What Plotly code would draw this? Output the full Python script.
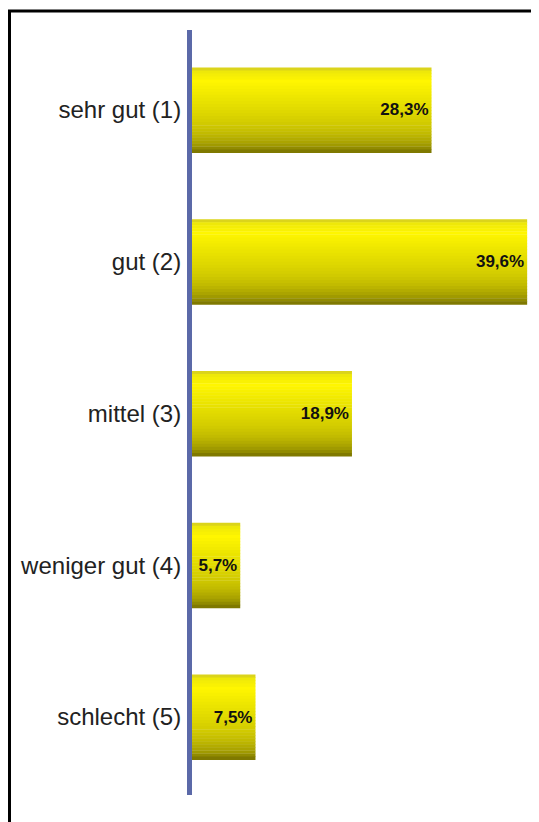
import plotly.graph_objects as go

categories = ["sehr gut (1)", "gut (2)", "mittel (3)", "weniger gut (4)", "schlecht (5)"]
values = [28.3, 39.6, 18.9, 5.7, 7.5]

# page body has an 8px margin, so the figure is sized to fill the rest
W, H = 531, 814
L, R, T, B = 184, 0, 22, 27
pw, ph = W - L - R, H - T - B

BAR_W = 0.56
# shading stops (fraction from top of bar, rgb) – purely styling
stops = [
    (0.00, (205, 198, 40)),
    (0.04, (236, 230, 10)),
    (0.16, (255, 246, 0)),
    (0.32, (240, 233, 0)),
    (0.48, (226, 219, 0)),
    (0.64, (212, 205, 0)),
    (0.78, (192, 185, 0)),
    (0.90, (165, 158, 0)),
    (0.97, (135, 129, 0)),
    (1.00, (115, 110, 0)),
]


def shade(f):
    for (f0, c0), (f1, c1) in zip(stops[:-1], stops[1:]):
        if f0 <= f <= f1:
            t = (f - f0) / (f1 - f0) if f1 > f0 else 0
            return "rgb(%d,%d,%d)" % tuple(round(a + (b - a) * t) for a, b in zip(c0, c1))
    return "rgb(%d,%d,%d)" % stops[-1][1]


N = 28
fig = go.Figure()
for i in range(N):
    f0 = i / N
    fig.add_trace(go.Bar(
        x=values, y=categories, orientation="h",
        offset=-BAR_W / 2 + f0 * BAR_W, width=BAR_W / N * 1.15,
        marker=dict(color=shade(f0 + 0.5 / N), line=dict(width=0)),
        hoverinfo="skip", showlegend=False,
    ))

# text trace
fig.add_trace(go.Bar(
    x=values, y=categories, orientation="h",
    offset=-BAR_W / 2, width=BAR_W,
    marker=dict(color="rgba(0,0,0,0)", line=dict(width=0)),
    texttemplate="%{x:.1f}%", textposition="inside", insidetextanchor="end",
    constraintext="none", textangle=0,
    textfont=dict(family="Liberation Sans, Arial", size=17, color="#111111", weight="bold"),
    showlegend=False,
))

fig.update_layout(
    width=W, height=H,
    margin=dict(l=L, r=R, t=T, b=B),
    paper_bgcolor="white", plot_bgcolor="white",
    barmode="overlay",
    separators=",.",
    xaxis=dict(range=[0, 41.0], visible=False, fixedrange=True),
    yaxis=dict(
        categoryorder="array", categoryarray=categories,
        range=[4.514, -0.527],
        showline=True, linecolor="#5b69a8", linewidth=5,
        showgrid=False, zeroline=False, ticks="",
        ticklabelstandoff=1,
        tickfont=dict(family="Liberation Sans, Arial", size=24, color="#222222"),
    ),
    shapes=[dict(
        type="path", xref="paper", yref="paper",
        path="M %f,%f L %f,%f L %f,%f" % (
            (1.5 - L) / pw, -0.2,
            (1.5 - L) / pw, 1 + (T - 3) / ph,
            1.3, 1 + (T - 3) / ph),
        line=dict(color="black", width=3),
        layer="above",
    )],
)

fig.write_html("out.html")
